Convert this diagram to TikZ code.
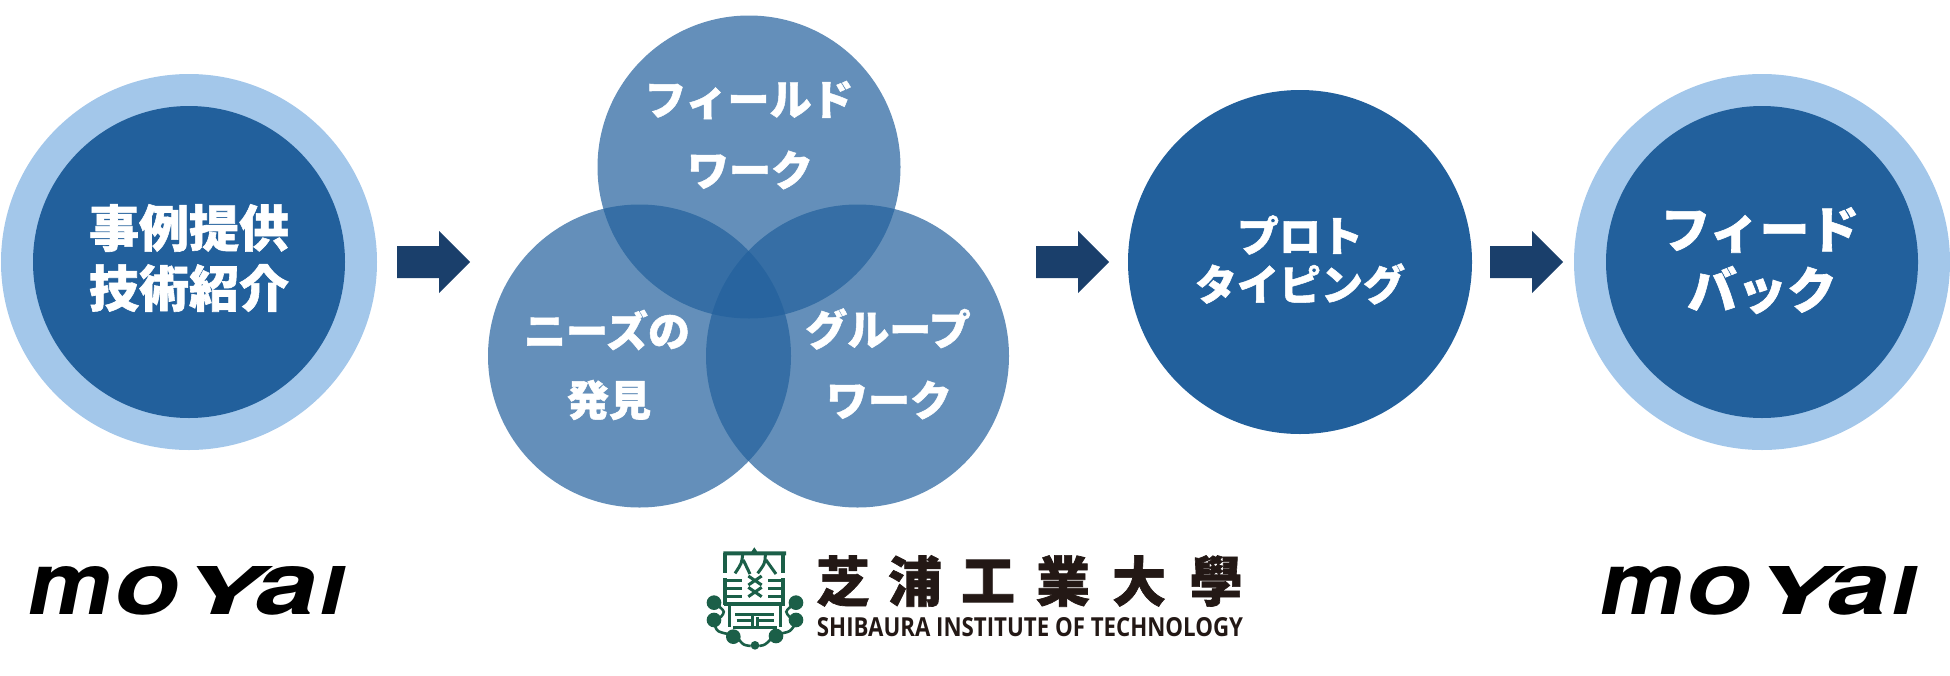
\documentclass[tikz,border=0pt]{standalone}
\usepackage{fontspec}
\usepackage{graphicx}
\newfontfamily\jp{Noto Sans CJK JP Black}[FakeBold=1.2]
\newfontfamily\en{Open Sans}
\newfontfamily\mo{TeX Gyre Heros}[FakeSlant=0.18]
\definecolor{outerc}{HTML}{A3C7EA}
\definecolor{innerc}{HTML}{22609C}
\definecolor{arrowc}{HTML}{1A3F6B}
\definecolor{crest}{HTML}{1B5F48}
\definecolor{sit}{HTML}{231815}
\tikzset{
 x=1pt,y=-1pt,
 ring/.style={circle,fill=outerc,minimum size=376pt,inner sep=0pt},
 core/.style={circle,fill=innerc,minimum size=312pt,inner sep=0pt},
 venn/.style={circle,fill=innerc,fill opacity=.7,minimum size=303pt,inner sep=0pt},
 lab/.style={text=white,font=\jp\fontsize{#1}{#1}\selectfont,inner sep=0pt,anchor=center},
 flow/.style={fill=arrowc,draw=none},
 moyai/.style={text=black,inner sep=0pt,anchor=base west},
 kanji/.style={text=sit,font=\jp\fontsize{54}{54}\selectfont,inner sep=0pt},
 cl/.style={draw=crest,line width=4pt,line cap=butt,line join=miter},
 cs/.style={draw=crest,line width=3pt,line cap=butt},
 cf/.style={fill=crest,draw=none}
}
\newcommand{\flowarrow}[2]{%
 \fill[flow] (#1,#2-16)--(#1+42,#2-16)--(#1+42,#2-31)--(#1+73,#2)--(#1+42,#2+31)--(#1+42,#2+16)--(#1,#2+16)--cycle;}
\newcommand{\moyaitext}{\mo\bfseries\resizebox{84pt}{48pt}{m}\kern2pt\resizebox{66pt}{48pt}{o}\kern1pt\resizebox{82pt}{48pt}{Y}\kern-8pt\resizebox{62pt}{48pt}{a}\kern3pt\resizebox{24pt}{48pt}{I}}
\begin{document}
\begin{tikzpicture}
\useasboundingbox (0,0) rectangle (1950,675);
\node[ring] (o1) at (189,262) {};
\node[core] (c1) at (189,262) {};
\node[lab=50] (t1) at (189,228) {事例提供};
\node[lab=50] (t1b) at (189,288) {技術紹介};
\flowarrow{397}{262}
\node[venn] (v1) at (749,167) {};
\node[venn] (v2) at (639.5,356) {};
\node[venn] (v3) at (857.5,356) {};
\node[lab=42] (l1) at (749,100) {フィールド};
\node[lab=42] (l2) at (750,170) {ワーク};
\node[lab=42] (l3) at (607,330) {ニーズの};
\node[lab=42] (l4) at (609,400) {発見};
\node[lab=42] (l5) at (888,329) {グループ};
\node[lab=42] (l6) at (889,400) {ワーク};
\flowarrow{1036}{262}
\node[circle,fill=innerc,minimum size=344pt,inner sep=0pt] (p) at (1300,262) {};
\node[lab=42] (p1) at (1300,235) {プロト};
\node[lab=42] (p2) at (1300,284) {タイピング};
\flowarrow{1490}{262}
\node[ring] (o2) at (1762,262) {};
\node[core] (c2) at (1762,262) {};
\node[lab=50] (f1) at (1760,230) {フィード};
\node[lab=50] (f2) at (1762,290) {バック};
\node[moyai] (m1) at (24,614) {\moyaitext};
\node[moyai] (m2) at (1596,614) {\moyaitext};
% crest (coordinates in thirds of a pixel)
\begin{scope}[shift={(700,540)},x=0.3333pt,y=-0.3333pt]
 \fill[crest] (70,34)--(155,34)--(163,22)--(171,34)--(258,34)--(258,46)--(70,46)--cycle;
 \draw[cl] (76,40)--(76,100) (250,40)--(250,100);
 \draw[cs] (128,44) .. controls (125,70) .. (105,100) (130,60)--(150,102);
 \draw[cs] (196,44) .. controls (195,70) .. (173,100) (198,60)--(228,102);
 \draw[cs] (145,108)--(185,135) (185,108)--(145,135) (145,142)--(185,170) (185,142)--(145,170);
 \draw[cl] (76,115)--(76,195) (250,115)--(250,195);
 \draw[cs] (72,122)--(125,122) (80,146)--(125,146) (80,170)--(125,170) (205,122)--(254,122) (205,146)--(246,146) (205,170)--(246,170);
 \draw[cl] (72,193)--(254,193);
 \draw[cs] (88,193)--(88,262) (240,193)--(240,262);
 \draw[cs] (105,222)--(222,222) (110,240)--(158,240) (172,240)--(222,240) (100,262)--(230,262);
 \draw[cs] (158,222)--(158,262) (172,230)--(172,262);
 \fill[crest] (42,188) circle[radius=22] (42,240) circle[radius=22] (100,290) circle[radius=22] (165,316) circle[radius=13] (228,288) circle[radius=22] (288,188) circle[radius=22] (288,240) circle[radius=22];
 \draw[crest,line width=2.6pt] (58,200) .. controls (75,215) .. (62,232) (45,258) .. controls (52,275) .. (84,282) (118,300) .. controls (130,315) .. (152,318) (178,318) .. controls (195,315) .. (212,298) (245,280) .. controls (270,275) .. (282,258) (272,200) .. controls (255,215) .. (270,232);
\end{scope}
\node[kanji] (k1) at (843,581) {芝};
\node[kanji] (k2) at (915,581) {浦};
\node[kanji] (k3) at (988,581) {工};
\node[kanji] (k4) at (1063,581) {業};
\node[kanji] (k5) at (1139,581) {大};
\node[kanji] (k6) at (1216,581) {學};
\node[inner sep=0pt,text=sit] (st) at (1030,627) {\resizebox{426pt}{19pt}{\en\bfseries SHIBAURA INSTITUTE OF TECHNOLOGY}};
\end{tikzpicture}
\end{document}
